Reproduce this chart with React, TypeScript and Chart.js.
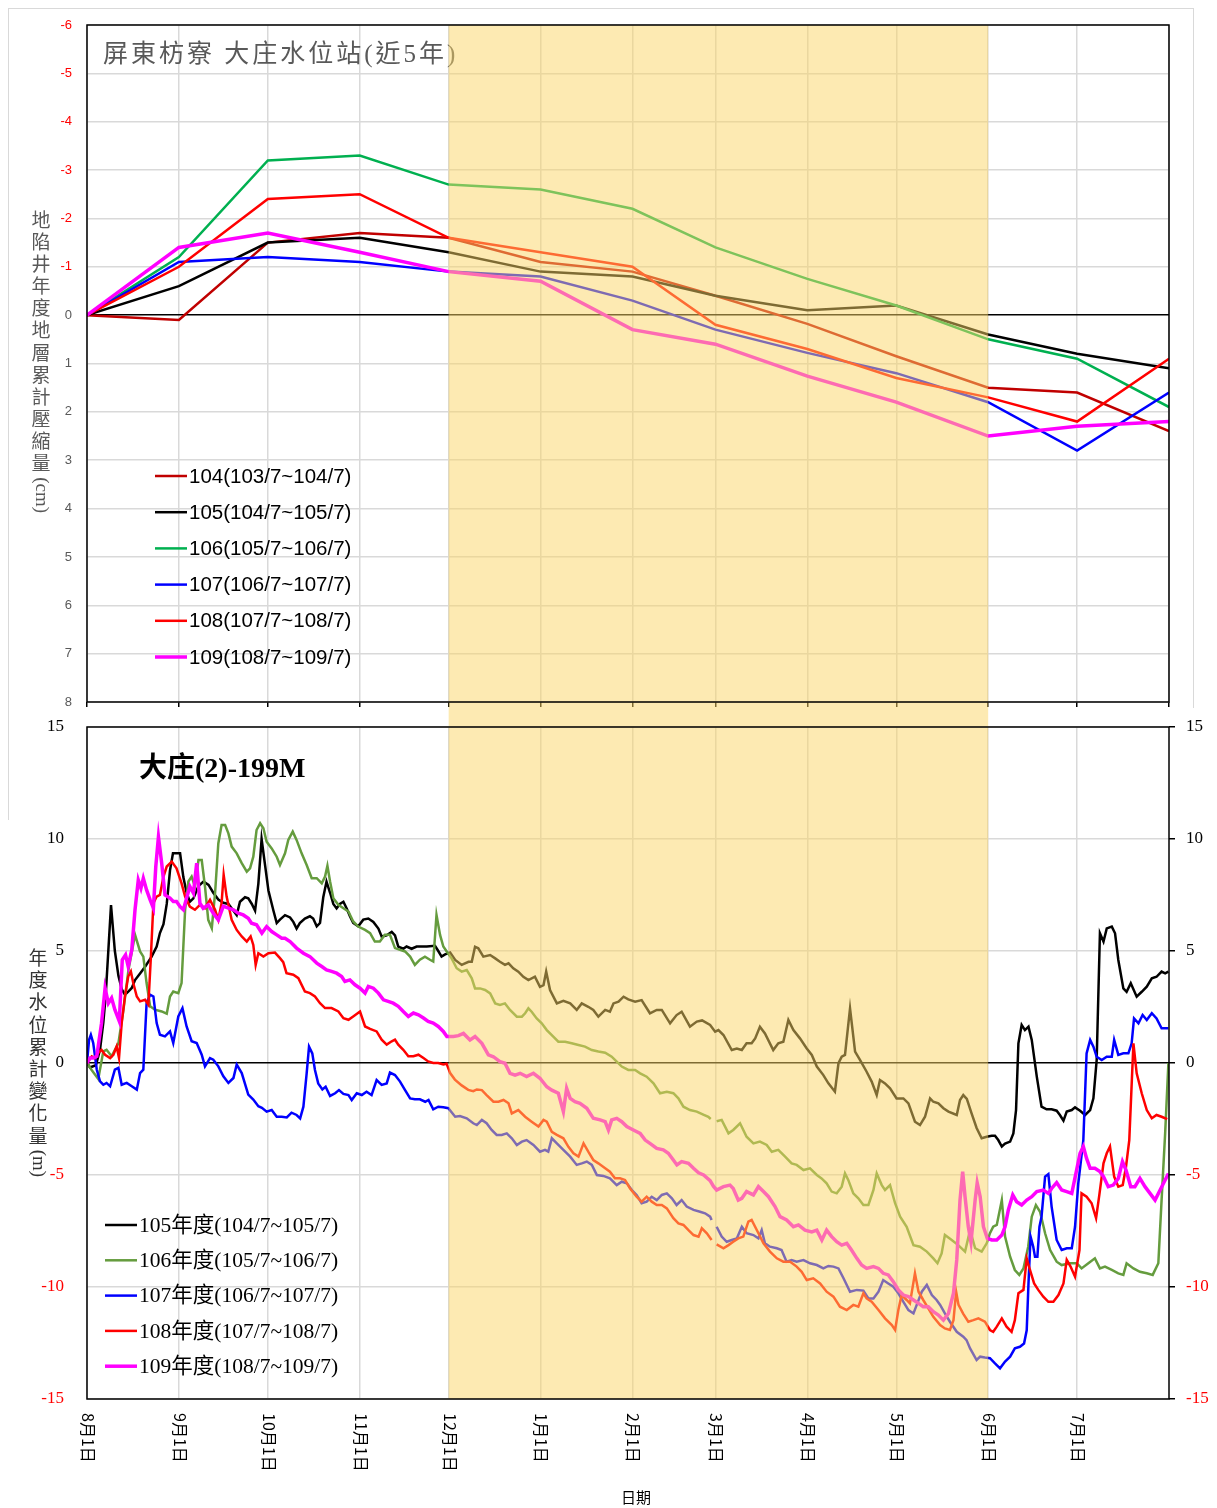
import { useEffect, useRef } from 'react';
import { Chart, registerables } from 'chart.js';

Chart.register(...registerables);

// ---------- shared x axis (days since Aug 1) ----------
const MONTH_DAYS = [0, 31, 61, 92, 122, 153, 184, 212, 243, 273, 304, 334];
const MONTH_LABELS = ['8月1日', '9月1日', '10月1日', '11月1日', '12月1日', '1月1日', '2月1日', '3月1日', '4月1日', '5月1日', '6月1日', '7月1日'];
const X_END = 365;
const SHADE_FROM = 122; // Dec 1
const SHADE_TO = 304; // Jun 1

// ---------- top chart: yearly cumulative compaction (cm) ----------
const TOP_TITLE = '屏東枋寮 大庄水位站(近5年)';
const TOP_Y_TITLE = '地陷井年度地層累計壓縮量';
const TOP_Y_UNIT = '(cm)';
const TOP_X = [0, 31, 61, 92, 122, 153, 184, 212, 243, 273, 304, 334, 365];
const TOP_LABELS = ['104(103/7~104/7)', '105(104/7~105/7)', '106(105/7~106/7)', '107(106/7~107/7)', '108(107/7~108/7)', '109(108/7~109/7)'];
const TOP_COLORS = ['#C00000', '#000000', '#00B050', '#0000FF', '#FF0000', '#FF00FF'];
const comp104 = [0, 0.1, -1.5, -1.7, -1.6, -1.1, -0.9, -0.4, 0.18, 0.85, 1.5, 1.6, 2.4];
const comp105 = [0, -0.6, -1.5, -1.6, -1.3, -0.9, -0.8, -0.4, -0.1, -0.2, 0.4, 0.8, 1.1];
const comp106 = [0, -1.2, -3.2, -3.3, -2.7, -2.6, -2.2, -1.4, -0.75, -0.2, 0.5, 0.9, 1.9];
const comp107 = [0, -1.1, -1.2, -1.1, -0.9, -0.8, -0.3, 0.3, 0.78, 1.2, 1.8, 2.8, 1.6];
const comp108 = [0, -1.0, -2.4, -2.5, -1.6, -1.3, -1.0, 0.2, 0.7, 1.3, 1.7, 2.2, 0.9];
const comp109 = [0, -1.4, -1.7, -1.3, -0.9, -0.7, 0.3, 0.6, 1.26, 1.8, 2.5, 2.3, 2.2];
const TOP_VALUES = [comp104, comp105, comp106, comp107, comp108, comp109];

// ---------- bottom chart: cumulative water level change (m) ----------
const BOT_TITLE = '大庄(2)-199M';
const BOT_Y_TITLE = '年度水位累計變化量';
const BOT_Y_UNIT = '(m)';
const BOT_X_TITLE = '日期';
const BOT_LABELS = ['105年度(104/7~105/7)', '106年度(105/7~106/7)', '107年度(106/7~107/7)', '108年度(107/7~108/7)', '109年度(108/7~109/7)'];
const BOT_COLORS = ['#000000', '#659C3E', '#0000FF', '#FF0000', '#FF00FF'];

type P = [number, number | null];

const wl105: P[] = [[0,0],[1,-0.2],[3,-0.1],[4.4,0.6],[5.5,1.8],[6.3,3.0],[8.1,7.05],[9.4,5.0],[10.6,3.9],[11.7,3.3],[12.8,3.05],[14,3.2],[15.1,3.35],[16.2,3.7],[17.9,4.0],[19.6,4.3],[21.8,4.75],[23.5,5.2],[24.6,5.8],[25.8,6.2],[26.9,7.1],[28,8.6],[29,9.36],[31.4,9.36],[32.5,8.3],[33.6,7.6],[34.7,7.2],[35.9,7.35],[37.6,7.9],[39.3,8.1],[41,7.95],[42.6,7.6],[44.3,7.3],[46,7.15],[47.7,7.1],[49.4,6.8],[50.5,6.6],[51.6,7.2],[53.3,7.4],[54.4,7.35],[55.6,7.1],[56.7,6.8],[57.8,8.0],[58.9,10.0],[60.1,8.8],[61.2,7.7],[62.9,6.8],[64,6.25],[65.1,6.4],[66.8,6.6],[68.5,6.5],[69.6,6.3],[70.7,6.0],[71.8,6.25],[73.5,6.45],[75.2,6.55],[76.3,6.45],[77.5,6.1],[78.6,6.25],[79.7,7.4],[80.8,8.1],[82,7.6],[83.1,7.1],[84.2,6.9],[85.3,7.1],[86.5,7.2],[87.6,6.9],[88.7,6.55],[89.8,6.25],[91.5,6.1],[93.2,6.4],[94.9,6.45],[96.6,6.3],[98.3,6.0],[99.4,5.65],[101.1,5.7],[102.8,5.85],[103.9,5.7],[105,5.2],[106.7,5.1],[107.8,5.2],[109.5,5.1],[111.2,5.2],[112.9,5.2],[114.6,5.2],[117.4,5.23],[118.5,5.0],[119.6,4.75],[120.8,4.85],[122.5,4.93],[124.2,4.6],[126.4,4.38],[128.7,4.52],[129.8,4.52],[130.9,5.19],[132,5.12],[133.7,4.75],[136,4.82],[137.7,4.67],[139.3,4.52],[141,4.38],[142.2,4.45],[143.8,4.23],[145.5,4.08],[147.2,3.85],[148.9,3.7],[151.1,3.85],[152.8,3.4],[154,3.48],[154.9,4.08],[156.2,3.26],[158.5,2.66],[160.7,2.78],[163,2.66],[165.2,2.37],[166.9,2.66],[169.1,2.51],[170.8,2.37],[172.5,2.07],[174.8,2.37],[176.4,2.29],[177.6,2.66],[179.3,2.74],[181,2.96],[182.6,2.84],[184.9,2.74],[187.1,2.81],[189.9,2.22],[192.2,2.37],[193.9,2.37],[196.7,1.77],[198.9,2.14],[200.6,2.29],[203.4,1.62],[205.7,1.85],[207.5,1.9],[210.2,1.7],[211.9,1.4],[213,1.47],[214.7,1.25],[217.5,0.58],[219.2,0.65],[220.9,0.58],[222.5,0.88],[224.2,0.88],[225.4,1.1],[227,1.62],[228.7,1.32],[231.5,0.58],[233.2,0.88],[234.9,0.95],[236.6,1.92],[238.3,1.47],[240.5,1.1],[242.8,0.65],[244.5,0.36],[246.2,-0.16],[248.4,-0.54],[250.1,-0.91],[252.3,-1.28],[253.5,-0.01],[254.6,0.28],[255.7,0.36],[257.4,2.44],[259.1,0.51],[260.8,0.13],[263,-0.39],[264.7,-0.83],[266.4,-1.43],[267.5,-0.76],[269.2,-0.91],[270.9,-1.13],[273.1,-1.58],[275.4,-1.58],[277.1,-1.8],[279.3,-2.62],[281,-2.77],[282.7,-2.4],[284.4,-1.58],[285.5,-1.73],[287.2,-1.8],[288.9,-2.02],[290.6,-2.17],[293.4,-2.32],[294.5,-1.65],[295.6,-1.43],[296.8,-1.6],[298.4,-2.25],[300.1,-2.9],[301.8,-3.36],[303.5,-3.29],[305.2,-3.25],[306.3,-3.25],[307.4,-3.44],[308.6,-3.73],[309.7,-3.6],[311.4,-3.51],[312.5,-3.14],[313.4,-2.1],[314.2,0.88],[315.3,1.7],[316.4,1.47],[317.6,1.62],[318.7,1.03],[320.4,-0.61],[322,-1.95],[323.7,-2.07],[325.4,-2.07],[327.1,-2.13],[328.2,-2.32],[329.4,-2.57],[330.5,-2.17],[332.2,-2.1],[333.3,-1.98],[335,-2.13],[336.7,-2.32],[338.4,-2.1],[339.5,-1.58],[340.6,0.13],[341.7,5.79],[342.9,5.42],[344,6.01],[345.7,6.09],[346.8,5.79],[347.9,4.6],[349.6,3.33],[350.7,3.18],[352.1,3.56],[354.1,2.96],[355.8,3.18],[357.5,3.41],[359.2,3.78],[360.8,3.85],[362.5,4.08],[363.7,4.0],[364.8,4.08]];

const wl106: P[] = [[0,0],[1.5,-0.3],[3.8,-0.71],[5.5,0.52],[6.6,0.59],[8.3,0.3],[10.6,0.89],[12.3,2.38],[14,4.16],[16.2,5.72],[17.9,4.98],[19,4.75],[20.1,3.57],[21.3,2.53],[22.9,2.38],[25.2,2.3],[26.9,2.2],[28,2.97],[29.1,3.19],[30.8,3.12],[31.9,3.57],[33.1,6.84],[34.2,8.1],[35.3,8.32],[36.4,7.88],[37.6,9.06],[38.7,9.06],[39.8,7.88],[40.9,6.39],[42.1,6.02],[43.2,7.58],[44.3,9.8],[45.4,10.62],[46.6,10.62],[47.7,10.25],[48.8,9.66],[50.5,9.36],[52.2,8.92],[53.9,8.54],[55,8.69],[56.1,9.21],[57.2,10.4],[58.4,10.7],[59.5,10.48],[60.6,9.88],[62.3,9.58],[64,9.21],[65.1,8.84],[66.8,9.36],[67.9,9.96],[69.4,10.33],[70.7,9.96],[72.4,9.36],[74.1,8.84],[75.8,8.25],[77.5,8.25],[79.2,8.02],[80.3,8.32],[81.1,8.8],[82,8.1],[83.1,7.36],[84.8,7.06],[86.5,6.91],[88.2,6.76],[89.8,6.32],[91.5,6.09],[93.8,5.94],[95.5,5.8],[97.1,5.42],[98.8,5.42],[100.5,5.72],[102.2,5.72],[103.9,5.13],[105.6,5.05],[107.3,4.98],[109,4.75],[110.6,4.38],[112.3,4.61],[114,4.75],[115.7,4.61],[116.8,4.53],[117.9,6.61],[119.1,5.72],[120.2,5.2],[121.4,4.97],[123,4.67],[124.7,4.23],[126.4,4.08],[128.1,4.15],[129.8,3.78],[130.9,3.33],[132.6,3.33],[134.3,3.26],[136,3.11],[137.7,2.66],[139.3,2.59],[141,2.66],[142.7,2.37],[145,2.07],[146.7,2.07],[147.8,2.22],[148.9,2.44],[150,2.29],[151.7,1.99],[153.4,1.77],[155.1,1.47],[157.3,1.18],[159,0.95],[161.3,0.95],[163.5,0.88],[165.8,0.8],[168,0.73],[170.3,0.58],[172.5,0.51],[174.8,0.46],[177,0.28],[178.7,0.06],[180.4,-0.16],[182.6,-0.31],[184.9,-0.31],[186.6,-0.46],[188.8,-0.61],[191.1,-0.91],[193.3,-1.35],[195.6,-1.28],[197.8,-1.35],[199.5,-1.58],[201.2,-1.95],[203.4,-2.1],[205.7,-2.17],[207.9,-2.3],[209.6,-2.4],[210.4,-2.5],[211.3,null],[212.4,-2.6],[214.1,-2.54],[216.4,-3.14],[218,-2.99],[220.3,-2.69],[222.5,-3.29],[224.8,-3.59],[227,-3.51],[229.3,-3.66],[231,-3.96],[233.2,-3.88],[235.5,-4.18],[237.7,-4.48],[239.4,-4.55],[241.7,-4.78],[243.9,-4.7],[246.2,-5.0],[247.8,-5.15],[249.5,-5.37],[251.2,-5.74],[252.9,-5.82],[254.6,-5.52],[255.7,-4.93],[256.8,-5.22],[258.5,-5.82],[260.2,-6.04],[261.9,-6.34],[263.6,-6.34],[265.3,-5.67],[266.4,-4.93],[268.1,-5.45],[269.2,-5.67],[270.9,-5.45],[272.6,-6.26],[274.3,-6.86],[276.5,-7.31],[278.8,-8.13],[281,-8.2],[283.3,-8.42],[285.5,-8.72],[286.9,-8.94],[288.3,-8.5],[289.4,-7.68],[291.7,-7.9],[293.9,-8.13],[296.2,-8.42],[297.9,-7.46],[299.6,-8.27],[301.8,-8.42],[303.5,-8.05],[304.6,-7.6],[305.7,-7.31],[306.9,-7.23],[308.6,-6.12],[309.7,-7.75],[311.4,-8.65],[313,-9.24],[314.5,-9.46],[315.9,-9.17],[317.5,-8.2],[318.7,-6.86],[320.1,-6.34],[321.5,-6.64],[323.2,-7.6],[324.9,-8.35],[327.1,-8.87],[328.8,-9.02],[331.6,-8.94],[333.9,-8.94],[335.5,-9.17],[337.8,-8.94],[340,-8.72],[341.7,-9.17],[343.4,-9.09],[345.7,-9.24],[347.9,-9.39],[349.6,-9.46],[350.7,-8.94],[353,-9.17],[355.2,-9.32],[357.5,-9.39],[359.5,-9.46],[361.4,-8.94],[362.5,-6.12],[363.7,-3.14],[364.8,0]];

const wl107: P[] = [[0,0],[0.7,1.04],[1.3,1.26],[2.1,0.89],[3.3,-0.3],[4.4,-0.82],[5.5,-0.97],[6.6,-0.89],[7.8,-1.04],[9.4,-0.3],[10.6,-0.22],[11.7,-0.97],[13.4,-0.89],[15.1,-1.04],[16.8,-1.19],[17.9,-0.45],[19,-0.3],[20.1,2.67],[21.3,3.05],[22.4,2.97],[23.5,1.78],[24.6,1.26],[26.3,1.19],[28,1.41],[29.1,0.89],[30.8,2.08],[32.2,2.45],[33.6,1.63],[35.3,0.97],[37,0.89],[38.7,0.37],[39.8,-0.15],[41.5,0.22],[42.6,0.15],[44.3,-0.15],[46,-0.59],[47.7,-0.89],[49.4,-0.67],[50.5,-0.07],[52.2,-0.45],[54.4,-1.41],[56.1,-1.63],[57.8,-1.93],[59,-2.0],[60.6,-2.17],[62.3,-2.1],[64,-2.4],[65.7,-2.4],[67.4,-2.43],[69,-2.22],[70.7,-2.32],[71.9,-2.47],[73,-1.95],[74.1,-0.46],[74.9,0.73],[76,0.43],[76.9,-0.31],[78,-0.91],[79.4,-1.18],[80.5,-1.06],[82,-1.47],[83.7,-1.35],[85,-1.21],[86.5,-1.38],[88.2,-1.43],[89.3,-1.65],[91,-1.35],[92.7,-1.43],[94.3,-1.28],[96,-1.43],[97.7,-0.76],[99.4,-0.98],[101.1,-0.91],[102.2,-0.43],[103.9,-0.54],[105.6,-0.83],[107.3,-1.21],[109,-1.58],[110.6,-1.62],[112.3,-1.62],[114.1,-1.73],[115.2,-1.65],[116.8,-2.07],[118.5,-1.95],[120.2,-1.98],[121.9,-2.02],[123.6,-2.3],[124.2,-2.4],[125.8,-2.37],[128.1,-2.47],[130.3,-2.69],[131.5,-2.77],[133.2,-2.54],[134.8,-2.69],[136.5,-2.99],[138.2,-3.21],[139.9,-3.21],[141.6,-3.14],[143.3,-3.36],[145,-3.66],[146.7,-3.51],[148.3,-3.44],[150.6,-3.66],[152.8,-3.96],[154.5,-3.88],[155.6,-3.96],[156.8,-3.36],[158.5,-3.59],[160.7,-3.88],[163,-4.18],[165.2,-4.55],[166.9,-4.48],[168.6,-4.4],[170.3,-4.55],[172,-5.0],[174.2,-5.04],[176.4,-5.15],[178.7,-5.45],[180.4,-5.3],[182.1,-5.37],[183.8,-5.67],[185.4,-5.89],[187.1,-6.26],[188.8,-6.19],[190.5,-5.97],[192.2,-6.12],[193.9,-5.89],[195.6,-5.82],[197.3,-6.04],[198.9,-6.34],[200.6,-6.12],[202.3,-6.41],[204.6,-6.56],[206.8,-6.64],[208.5,-6.71],[210.2,-6.86],[210.7,-7.01],[211.5,null],[212.4,-7.31],[214.1,-7.75],[215.8,-7.98],[217.5,-7.9],[219.2,-7.83],[220.9,-7.31],[222.5,-7.6],[224.8,-7.68],[226.5,-7.83],[227.6,-7.46],[228.7,-8.05],[230.4,-8.2],[232.7,-8.27],[234.3,-8.35],[236,-8.87],[237.7,-8.8],[239.4,-8.87],[241.7,-8.8],[243.9,-8.94],[246.2,-9.02],[248.4,-9.17],[250.1,-9.06],[251.8,-9.09],[253.5,-9.17],[255.2,-9.61],[257.4,-10.21],[259.7,-10.13],[261.9,-10.16],[263.6,-10.51],[265.3,-10.51],[267,-10.21],[268.6,-9.69],[270.3,-9.84],[272,-9.99],[273.7,-10.28],[275.4,-10.66],[277.1,-11.03],[278.8,-11.18],[279.9,-10.8],[281.6,-10.21],[283.3,-9.91],[285,-10.36],[286.6,-10.58],[287.8,-10.8],[289.4,-11.18],[291.1,-11.55],[293.4,-12.0],[295.6,-12.22],[296.7,-12.37],[297.9,-12.74],[300.1,-13.26],[301.3,-13.11],[302.9,-13.15],[304.6,-13.18],[306.3,-13.41],[308,-13.63],[309.7,-13.33],[311.4,-13.11],[313,-12.74],[314.7,-12.67],[316.1,-12.52],[317,-11.93],[317.6,-9.84],[318.3,-7.75],[319.2,-8.2],[319.8,-8.65],[320.6,-8.65],[321.3,-7.31],[322,-6.86],[323.2,-5.07],[324.3,-4.96],[325.4,-6.41],[327.1,-7.9],[328.8,-8.35],[330.5,-8.27],[332.2,-8.27],[333.3,-7.31],[334.4,-5.37],[336.1,-3.44],[337.2,0.43],[338.4,1.03],[339.5,0.73],[340.6,0.28],[342.3,0.13],[344,0.28],[345.7,0.28],[346.5,1.03],[347.9,0.36],[349.6,0.43],[351.3,0.43],[352.4,0.88],[353.2,1.99],[354.7,1.77],[356.1,2.14],[357.5,1.92],[359.2,2.22],[360.8,1.99],[362.5,1.55],[364.8,1.55]];

const wl108: P[] = [[0,0],[1.6,0.3],[2.7,0.22],[3.8,0.45],[4.9,0.59],[6.1,0.37],[7.8,0.22],[8.9,0.37],[10,0.74],[10.8,0.22],[11.7,1.78],[12.8,2.97],[13.9,3.86],[14.8,4.09],[15.6,3.57],[16.8,2.97],[17.9,2.75],[19.6,2.82],[20.7,2.6],[21.5,4.61],[22.4,7.13],[23.5,7.43],[24.6,7.5],[25.8,8.32],[26.9,8.77],[28.6,8.99],[30.2,8.69],[31.9,8.02],[33.1,7.43],[34.7,6.98],[36.4,6.84],[38.1,7.06],[39.8,6.91],[41.5,7.28],[43.2,6.84],[44.3,6.39],[45.4,7.13],[46.1,8.4],[47.1,7.43],[48.8,6.39],[50.5,5.94],[52.2,5.65],[53.9,5.42],[55.2,5.65],[56.1,5.27],[56.9,4.38],[57.8,4.9],[59.5,4.75],[61.2,4.9],[63.4,4.93],[65.1,4.68],[66.2,4.5],[67.3,4.01],[69.6,3.94],[71.3,3.79],[73.5,3.19],[75.2,3.12],[76.9,2.97],[78.6,2.67],[80.3,2.45],[82.5,2.45],[84.8,2.3],[86.5,2.0],[88.2,1.93],[89.8,2.08],[92.1,2.3],[93.8,1.63],[95.5,1.52],[97.7,1.41],[99.4,1.04],[101.1,0.82],[102.8,0.97],[103.9,1.04],[105,0.82],[106.7,0.59],[108.4,0.3],[110.1,0.3],[111.8,0.37],[113.5,0.22],[115.1,0.07],[116.8,0],[118.5,0],[120.2,-0.07],[121.3,-0.03],[122.5,-0.45],[124.1,-0.74],[126.4,-1.0],[128.6,-1.2],[130.3,-1.26],[131.5,-1.18],[133.2,-1.21],[134.8,-1.43],[137.1,-1.73],[138.8,-1.73],[140.5,-1.65],[142.2,-1.8],[143.3,-2.25],[145.5,-2.1],[147.8,-2.4],[150,-2.62],[152.3,-2.84],[154,-2.54],[155.1,-2.62],[156.8,-3.07],[158.5,-3.21],[160.7,-3.36],[162.4,-3.74],[164.1,-4.03],[165.8,-4.18],[167.5,-3.59],[169.1,-3.96],[170.8,-4.33],[172.5,-4.48],[174.8,-4.7],[176.4,-4.85],[178.1,-5.15],[179.8,-5.15],[181.5,-5.22],[183.2,-5.6],[185.4,-5.97],[187.1,-6.19],[188.8,-5.97],[190.5,-6.19],[192.2,-6.34],[193.9,-6.34],[195.6,-6.49],[197.8,-6.93],[199.5,-7.16],[201.2,-7.23],[202.9,-7.46],[204.6,-7.68],[206.3,-7.75],[207.4,-7.38],[209.1,-7.6],[210.7,-7.9],[211.5,null],[212.4,-8.1],[214.7,-8.27],[216.4,-8.13],[218,-7.98],[219.7,-7.83],[221.4,-7.75],[223.1,-7.08],[224.2,-7.01],[226.5,-7.6],[228.2,-8.05],[230.4,-8.42],[232.7,-8.72],[234.9,-8.87],[237.2,-8.87],[239.4,-9.09],[241.1,-9.32],[242.8,-9.69],[245,-9.61],[247.3,-9.84],[249.5,-10.21],[251.8,-10.43],[254,-10.88],[256.3,-11.03],[258.5,-10.8],[260.2,-10.88],[261.9,-10.28],[263,-10.51],[264.7,-10.66],[267,-11.03],[269.2,-11.4],[271.5,-11.7],[272.6,-11.92],[273.7,-11.03],[274.8,-10.36],[276.5,-10.58],[277.6,-10.73],[279.3,-9.39],[280.5,-10.21],[282.1,-10.58],[283.8,-10.95],[285.5,-11.33],[287.8,-11.7],[289.4,-11.85],[291.1,-11.92],[292.3,-11.48],[293.2,-10.21],[294,-10.8],[295.6,-11.2],[297.3,-11.55],[299,-11.48],[300.7,-11.4],[302.9,-11.55],[304.6,-11.92],[305.7,-12.0],[306.9,-11.77],[308.6,-11.4],[310.2,-11.77],[311.9,-12.0],[313,-11.48],[314.2,-10.28],[315.9,-10.13],[317,-8.72],[318.1,-9.24],[319.5,-9.84],[320.9,-10.13],[322.6,-10.43],[324.3,-10.66],[326,-10.66],[327.7,-10.36],[329.4,-9.84],[330.5,-8.79],[331.8,-9.09],[333.3,-9.54],[334.8,-8.35],[335.5,-5.82],[337.2,-5.97],[338.9,-6.26],[340.4,-6.93],[341.5,-5.89],[342.9,-4.48],[344,-4.03],[345.1,-3.73],[346.5,-5.07],[347.9,-5.52],[349.4,-5.45],[350.5,-4.63],[351.6,-3.44],[353,0.88],[354.1,-0.46],[355.8,-1.35],[357.5,-2.1],[359.2,-2.47],[360.8,-2.32],[362.5,-2.4],[364.4,-2.51]];

const wl109: P[] = [[0,0],[1,0.22],[2.1,0.22],[3.3,0.3],[4.9,1.78],[6.1,3.34],[7.2,2.67],[8.3,2.9],[9.4,2.38],[10.9,1.86],[11.9,4.61],[13,4.83],[13.9,4.31],[15.1,5.05],[16.2,6.84],[17.3,8.17],[18.2,7.8],[19,8.25],[20.1,7.73],[21.3,7.28],[22.4,6.91],[23.2,8.77],[24.1,10.1],[25.2,8.92],[26.3,7.5],[28,7.36],[29.1,7.21],[30.2,7.21],[31.4,6.98],[32.5,6.84],[33.6,7.36],[34.7,7.88],[35.9,7.58],[37,8.92],[38.1,7.13],[39.2,6.91],[40.9,7.06],[42.6,6.69],[44.3,6.39],[46,7.0],[47.7,6.91],[49.4,6.84],[51,6.69],[52.7,6.61],[54.4,6.46],[55.5,6.24],[57.2,6.17],[59,5.8],[60.6,6.09],[62.3,5.87],[64,5.72],[65.7,5.57],[66.8,5.57],[68.5,5.42],[70.7,5.13],[73,4.9],[75.2,4.75],[77.5,4.46],[79.2,4.31],[80.8,4.16],[82.5,4.09],[84.2,4.01],[85.9,3.86],[87,3.64],[88.7,3.71],[90.4,3.49],[92.1,3.34],[93.8,3.12],[94.9,3.42],[96.6,3.34],[98.3,3.12],[100,2.82],[101.6,2.75],[103.3,2.67],[105,2.53],[106.7,2.3],[108.4,2.08],[110.1,2.23],[111.8,2.15],[113.5,2.01],[115.1,1.86],[116.8,1.78],[118.5,1.63],[120.2,1.41],[121.4,1.18],[123.6,1.18],[125.3,1.22],[127,1.32],[129.2,1.03],[130.9,1.18],[133.2,0.88],[135.4,0.36],[137.1,0.28],[139.3,0.06],[141,-0.01],[142.7,-0.46],[144.4,-0.54],[146.1,-0.46],[148.3,-0.61],[150.6,-0.46],[152.8,-0.68],[155.1,-1.06],[156.8,-1.21],[159,-1.35],[160.7,-2.17],[161.8,-1.13],[163,-1.58],[164.6,-1.73],[166.3,-1.8],[168.6,-2.02],[170.8,-2.47],[173.1,-2.54],[174.8,-2.62],[175.9,-2.99],[177,-2.54],[178.7,-2.47],[180.4,-2.62],[182.1,-2.84],[184.3,-2.99],[186.6,-3.14],[188.3,-3.44],[189.9,-3.59],[192.2,-3.81],[194.4,-3.88],[196.1,-4.03],[197.8,-4.33],[199,-4.55],[200.6,-4.4],[202.9,-4.48],[204.6,-4.7],[206.3,-4.9],[208,-5.0],[210.2,-5.25],[211.3,-5.5],[212.4,-5.67],[214.7,-5.52],[216.9,-5.45],[218,-5.6],[219.7,-6.12],[220.9,-6.04],[222.5,-5.74],[224.8,-5.89],[226.5,-5.52],[228.2,-5.74],[229.9,-5.97],[232.1,-6.41],[233.8,-6.86],[236,-7.01],[238.3,-7.31],[240,-7.23],[242.2,-7.46],[244.5,-7.54],[246.2,-7.46],[247.9,-7.9],[249.5,-7.46],[251.2,-7.75],[252.9,-7.98],[254.6,-8.13],[256.3,-8.05],[257.9,-8.35],[259.7,-8.72],[261.3,-9.02],[263,-9.17],[265.3,-9.09],[267,-9.17],[268.6,-9.39],[270.3,-9.46],[272,-9.76],[273.7,-10.13],[275.4,-10.36],[277.1,-10.43],[278.8,-10.58],[280.5,-10.73],[282.1,-10.88],[283.8,-10.88],[285.5,-11.1],[287.2,-11.25],[288.9,-11.48],[290.6,-11.18],[292.3,-10.28],[293.4,-8.79],[294.5,-6.12],[295.4,-4.85],[296.2,-5.97],[297.3,-7.31],[298.2,-8.0],[299.6,-6.12],[300.3,-5.35],[301.3,-5.97],[302.4,-7.31],[303.7,-7.83],[305.2,-7.9],[306.9,-7.9],[308.6,-7.68],[309.7,-7.31],[310.8,-6.56],[312.3,-5.89],[313.6,-6.19],[315.3,-6.34],[317,-6.12],[318.7,-5.97],[320.4,-5.74],[322.6,-5.67],[324.3,-5.82],[325.4,-5.6],[327.1,-5.34],[328.8,-5.67],[330.5,-5.74],[332.2,-5.82],[333.6,-4.93],[335,-4.03],[336.1,-3.73],[337.2,-4.26],[338.4,-4.7],[340,-4.7],[341.7,-4.85],[342.9,-5.07],[344.5,-5.52],[346.2,-5.45],[347.9,-5.15],[349.3,-4.4],[350.5,-4.78],[352.1,-5.52],[353.5,-5.52],[355.2,-5.15],[356.9,-5.52],[358.6,-5.82],[360.3,-6.12],[362,-5.67],[363.7,-5.22],[364.8,-4.93]];

const BOT_VALUES = [wl105, wl106, wl107, wl108, wl109];

// ---------- layout constants ----------
const W = 1217;
const TOP_H = 715;
const BOT_H = 793;
const SHADE = 'rgba(251, 213, 101, 0.5)';
const GRID = '#d9d9d9';
const CJK = '"Noto Sans CJK TC"';

function drawVerticalTitle(ctx: CanvasRenderingContext2D, text: string, unit: string, cx: number, y0: number, step: number, font: string, color: string) {
  ctx.save();
  ctx.font = font;
  ctx.fillStyle = color;
  ctx.textAlign = 'center';
  ctx.textBaseline = 'middle';
  const chars = Array.from(text);
  chars.forEach((c, i) => ctx.fillText(c, cx, y0 + i * step));
  const uw = ctx.measureText(unit).width;
  ctx.translate(cx, y0 + (chars.length - 0.5) * step + uw / 2 + 1);
  ctx.rotate(Math.PI / 2);
  ctx.fillText(unit, 0, 0);
  ctx.restore();
}

const fixY = (width: number) => (s: any) => {
  s.width = width;
  s.paddingTop = 0;
  s.paddingBottom = 0;
};
const fixX = (height: number) => (s: any) => {
  s.height = height;
  s.paddingLeft = 0;
  s.paddingRight = 0;
};

const topDecor = {
  id: 'topDecor',
  afterDatasetsDraw(chart: any) {
    const { ctx, chartArea: a, scales } = chart;
    const x = scales.x;
    ctx.save();
    // title
    ctx.font = `25px "Liberation Serif", ${CJK}`;
    (ctx as any).letterSpacing = '3px';
    ctx.fillStyle = '#595959';
    ctx.textAlign = 'left';
    ctx.textBaseline = 'alphabetic';
    ctx.fillText(TOP_TITLE, 103, 62);
    (ctx as any).letterSpacing = '0px';
    // shading Dec-May
    const x0 = x.getPixelForValue(SHADE_FROM);
    const x1 = x.getPixelForValue(SHADE_TO);
    ctx.fillStyle = SHADE;
    ctx.fillRect(x0, a.top, x1 - x0, chart.height - a.top);
    // frame
    ctx.strokeStyle = '#000';
    ctx.lineWidth = 1.5;
    ctx.strokeRect(a.left, a.top, a.right - a.left, a.bottom - a.top);
    // legend
    ctx.font = '20.5px "Liberation Sans", Arial, sans-serif';
    ctx.textBaseline = 'middle';
    TOP_LABELS.forEach((lab, i) => {
      const y = 476 + i * 36.2;
      ctx.strokeStyle = TOP_COLORS[i];
      ctx.lineWidth = i === 5 ? 3.5 : 2.5;
      ctx.beginPath();
      ctx.moveTo(155, y);
      ctx.lineTo(187, y);
      ctx.stroke();
      ctx.fillStyle = '#000';
      ctx.fillText(lab, 189, y + 1);
    });
    ctx.restore();
    drawVerticalTitle(ctx, TOP_Y_TITLE, TOP_Y_UNIT, 41, 222, 22.1, `19px "Liberation Serif", ${CJK}`, '#595959');
  },
};

const botDecor = {
  id: 'botDecor',
  afterDatasetsDraw(chart: any) {
    const { ctx, chartArea: a, scales } = chart;
    const x = scales.x;
    ctx.save();
    const x0 = x.getPixelForValue(SHADE_FROM);
    const x1 = x.getPixelForValue(SHADE_TO);
    ctx.fillStyle = SHADE;
    ctx.fillRect(x0, 0, x1 - x0, a.bottom);
    ctx.strokeStyle = '#000';
    ctx.lineWidth = 1.5;
    ctx.strokeRect(a.left, a.top, a.right - a.left, a.bottom - a.top);
    // title
    ctx.font = `bold 28px "Liberation Serif", ${CJK}`;
    ctx.fillStyle = '#000';
    ctx.textAlign = 'left';
    ctx.textBaseline = 'middle';
    ctx.fillText(BOT_TITLE, 139, 770 - 715);
    // legend
    ctx.font = `21.5px "Liberation Serif", ${CJK}`;
    BOT_LABELS.forEach((lab, i) => {
      const y = 1225 - 715 + i * 35.3;
      ctx.strokeStyle = BOT_COLORS[i];
      ctx.lineWidth = i === 4 ? 3.5 : 2.5;
      ctx.beginPath();
      ctx.moveTo(105, y);
      ctx.lineTo(137, y);
      ctx.stroke();
      ctx.fillStyle = '#000';
      ctx.fillText(lab, 139, y + 1);
    });
    // x tick labels (rotated)
    ctx.font = `16px ${CJK}`;
    ctx.fillStyle = '#000';
    MONTH_DAYS.forEach((d, i) => {
      const px = x.getPixelForValue(d);
      ctx.save();
      ctx.translate(px + 1, a.bottom + 14);
      ctx.rotate(Math.PI / 2);
      ctx.textAlign = 'left';
      ctx.textBaseline = 'middle';
      ctx.fillText(MONTH_LABELS[i], 0, 0);
      ctx.restore();
    });
    // x title
    ctx.font = `15px ${CJK}`;
    ctx.textAlign = 'center';
    ctx.fillText(BOT_X_TITLE, 636, 1497 - 715);
    ctx.restore();
    drawVerticalTitle(ctx, BOT_Y_TITLE, BOT_Y_UNIT, 38, 960 - 715, 22.2, `19px "Liberation Serif", ${CJK}`, '#333333');
  },
};

function TopChart() {
  const ref = useRef<HTMLCanvasElement>(null);
  useEffect(() => {
    const chart = new Chart(ref.current as HTMLCanvasElement, {
      type: 'line',
      data: {
        datasets: TOP_VALUES.map((vals, i) => ({
          label: TOP_LABELS[i],
          data: TOP_X.map((xv, j) => ({ x: xv, y: vals[j] })),
          borderColor: TOP_COLORS[i],
          backgroundColor: TOP_COLORS[i],
          borderWidth: i === 5 ? 3.5 : 2.5,
          pointRadius: 0,
          tension: 0,
          fill: false,
          order: 10 - i,
        })),
      },
      options: {
        responsive: false,
        animation: false,
        devicePixelRatio: 1,
        layout: { padding: { left: 0, right: 48, top: 25, bottom: 0 } },
        plugins: { legend: { display: false }, tooltip: { enabled: false } },
        scales: {
          x: {
            type: 'linear',
            min: 0,
            max: X_END,
            afterBuildTicks: (s: any) => { s.ticks = TOP_X.map((v) => ({ value: v })); },
            afterFit: fixX(TOP_H - 702),
            ticks: { display: false },
            grid: { color: GRID, lineWidth: 1.5, drawTicks: true, tickLength: 5, tickColor: '#000' },
            border: { display: false },
          },
          y: {
            type: 'linear',
            min: -6,
            max: 8,
            reverse: true,
            afterFit: fixY(87),
            ticks: {
              stepSize: 1,
              padding: 15,
              color: (c: any) => (c.tick.value < 0 ? '#FF0000' : '#595959'),
              font: { family: '"Liberation Sans", Arial, sans-serif', size: 13 },
            },
            grid: {
              color: (c: any) => (c.tick.value === 0 ? '#000' : GRID),
              lineWidth: 1.5,
              drawTicks: false,
            },
            border: { display: false },
          },
        },
      } as any,
      plugins: [topDecor],
    });
    return () => chart.destroy();
  }, []);
  return <canvas ref={ref} width={W} height={TOP_H} style={{ position: 'absolute', left: 0, top: 0, width: W, height: TOP_H }} />;
}

function BottomChart() {
  const ref = useRef<HTMLCanvasElement>(null);
  useEffect(() => {
    const yTicks = (c: any) => (c.tick.value < 0 ? '#FF0000' : '#000');
    const chart = new Chart(ref.current as HTMLCanvasElement, {
      type: 'line',
      data: {
        datasets: BOT_VALUES.map((pts, i) => ({
          label: BOT_LABELS[i],
          data: pts.map(([d, v]) => ({ x: d, y: v })),
          borderColor: BOT_COLORS[i],
          backgroundColor: BOT_COLORS[i],
          borderWidth: i === 4 ? 3.5 : 2.5,
          pointRadius: 0,
          tension: 0,
          fill: false,
          spanGaps: false,
          order: 10 - i,
          yAxisID: 'y',
        })),
      },
      options: {
        responsive: false,
        animation: false,
        devicePixelRatio: 1,
        layout: { padding: { left: 0, right: 0, top: 12, bottom: 0 } },
        plugins: { legend: { display: false }, tooltip: { enabled: false } },
        scales: {
          x: {
            type: 'linear',
            min: 0,
            max: X_END,
            afterBuildTicks: (s: any) => { s.ticks = MONTH_DAYS.map((v) => ({ value: v })); },
            afterFit: fixX(109),
            ticks: { display: false },
            grid: { color: GRID, lineWidth: 1.5, drawTicks: false },
            border: { display: false },
          },
          y: {
            type: 'linear',
            position: 'left',
            min: -15,
            max: 15,
            afterFit: fixY(87),
            ticks: { stepSize: 5, padding: 23, color: yTicks, font: { family: '"Liberation Serif", serif', size: 17 } },
            grid: {
              color: (c: any) => (c.tick.value === 0 ? '#000' : GRID),
              lineWidth: 1.5,
              drawTicks: false,
            },
            border: { display: false },
          },
          y2: {
            type: 'linear',
            position: 'right',
            min: -15,
            max: 15,
            afterFit: fixY(48),
            ticks: { stepSize: 5, padding: 11, color: yTicks, font: { family: '"Liberation Serif", serif', size: 17 } },
            grid: { drawOnChartArea: false, drawTicks: true, tickLength: 6, tickColor: '#000', lineWidth: 1.5 },
            border: { display: false },
          },
        },
      } as any,
      plugins: [botDecor],
    });
    return () => chart.destroy();
  }, []);
  return <canvas ref={ref} width={W} height={BOT_H} style={{ position: 'absolute', left: 0, top: TOP_H, width: W, height: BOT_H }} />;
}

export default function App() {
  const line = (l: number, t: number, w: number, h: number) => (
    <div style={{ position: 'absolute', left: l, top: t, width: w, height: h, background: GRID }} />
  );
  return (
    <div style={{ position: 'absolute', left: 0, top: 0, width: W, height: 1508, background: '#fff', overflow: 'hidden' }}>
      {line(8, 8, 1, 812)}
      {line(8, 8, 1185, 1)}
      {line(1193, 8, 1, 700)}
      <TopChart />
      <BottomChart />
    </div>
  );
}
